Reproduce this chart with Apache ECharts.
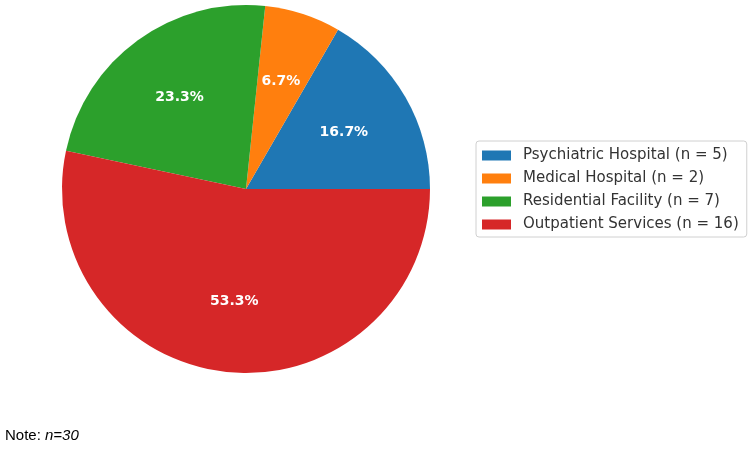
<!DOCTYPE html>
<html>
<head>
<meta charset="utf-8">
<script src="https://cdn.jsdelivr.net/npm/echarts@6/dist/echarts.min.js"></script>
<style>html,body{margin:0;padding:0;background:#fff;}#c{width:751px;height:453px;}</style>
</head>
<body>
<div id="c"></div>
<script>
const categories = ['Psychiatric Hospital', 'Medical Hospital', 'Residential Facility', 'Outpatient Services'];
const counts = [5, 2, 7, 16];
const colors = ['#1f77b4', '#ff7f0e', '#2ca02c', '#d62728'];
const noteLabel = 'Note: ';
const noteValue = 'n=30';

const names = categories.map((c, i) => c + ' (n = ' + counts[i] + ')');
const data = names.map((n, i) => ({ name: n, value: counts[i], itemStyle: { color: colors[i] } }));
const labelData = names.map((n, i) => ({ name: n, value: counts[i] }));

const chart = echarts.init(document.getElementById('c'));
chart.setOption({
  animation: false,
  backgroundColor: '#ffffff',
  title: {
    left: 0, top: 423,
    text: '{a|' + noteLabel + '}{b|' + noteValue + '}',
    textStyle: {
      fontWeight: 'normal',
      rich: {
        a: { fontFamily: 'Liberation Sans', fontSize: 15, fontWeight: 'normal', color: '#000' },
        b: { fontFamily: 'Liberation Sans', fontSize: 15, fontWeight: 'normal', fontStyle: 'italic', color: '#000' }
      }
    }
  },
  legend: {
    orient: 'vertical',
    left: 476, top: 141,
    padding: [7, 8, 5, 6],
    itemWidth: 29, itemHeight: 10,
    itemGap: 8,
    icon: 'rect',
    borderColor: '#d0d0d0', borderWidth: 1, borderRadius: 3,
    data: names,
    selectedMode: false,
    textStyle: { fontFamily: 'DejaVu Sans', fontSize: 15, color: '#333', lineHeight: 15, padding: [0, 0, 0, 7] }
  },
  series: [
    {
      type: 'pie',
      center: [246, 189],
      radius: [0, 184],
      startAngle: 0,
      clockwise: false,
      silent: true,
      label: { show: false },
      labelLine: { show: false },
      itemStyle: { borderWidth: 0 },
      emphasis: { disabled: true },
      data: data
    },
    {
      type: 'pie',
      center: [246, 189],
      radius: [36, 184],
      startAngle: 0,
      clockwise: false,
      silent: true,
      percentPrecision: 1,
      legendHoverLink: false,
      itemStyle: { color: 'rgba(0,0,0,0)', borderWidth: 0 },
      emphasis: { disabled: true },
      label: {
        show: true, position: 'inside',
        formatter: p => p.percent.toFixed(1) + '%',
        color: '#ffffff', fontFamily: 'DejaVu Sans', fontWeight: 'bold', fontSize: 14
      },
      labelLine: { show: false },
      data: labelData
    }
  ]
});
</script>
</body>
</html>
